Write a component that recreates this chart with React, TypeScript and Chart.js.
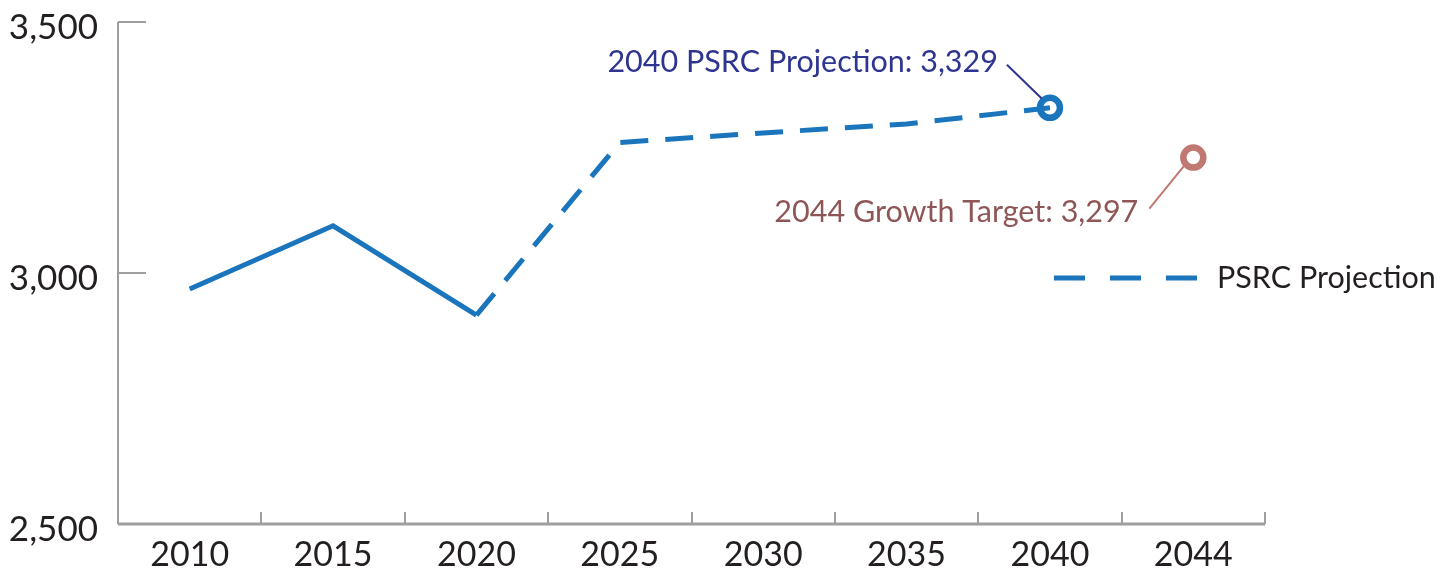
import React, { useEffect, useRef } from "react";
import { Chart, registerables } from "chart.js";

Chart.register(...registerables);

const YEARS = ["2010", "2015", "2020", "2025", "2030", "2035", "2040", "2044"];
const OBSERVED = [2968, 3094, 2916, null, null, null, null, null];
const PROJECTION = [null, null, 2916, 3260, 3279, 3297, 3329, null];
const PROJECTION_2040 = [null, null, null, null, null, null, 3329, null];
const TARGET_2044 = [null, null, null, null, null, null, null, 3230];
const Y_TICKS = [2500, 3000, 3500];
const PROJECTION_LABEL = "2040 PSRC Projection: 3,329";
const TARGET_LABEL = "2044 Growth Target: 3,297";
const LEGEND_LABEL = "PSRC Projection";

const BLUE = "#1a75bd";
const NAVY = "#2e3590";
const ROSE = "#c07872";
const BROWN = "#8e5656";
const AXIS = "#9e9e9e";
const FONT = "Lato, 'Open Sans', sans-serif";

const decorPlugin = {
  id: "decor",
  beforeDatasetsDraw(chart: any) {
    const { ctx, chartArea: ca, scales } = chart;
    const x = scales.x;
    const y = scales.y;
    ctx.save();
    ctx.strokeStyle = AXIS;
    ctx.lineCap = "butt";
    ctx.lineWidth = 2;
    ctx.beginPath();
    ctx.moveTo(ca.left, y.getPixelForValue(3500));
    ctx.lineTo(ca.left, ca.bottom);
    ctx.stroke();
    Y_TICKS.forEach((v) => {
      if (v === 2500) return;
      const py = y.getPixelForValue(v);
      ctx.beginPath();
      ctx.moveTo(ca.left, py);
      ctx.lineTo(ca.left + 28, py);
      ctx.stroke();
    });
    ctx.lineWidth = 3;
    ctx.beginPath();
    ctx.moveTo(ca.left, ca.bottom);
    ctx.lineTo(ca.right, ca.bottom);
    ctx.stroke();
    ctx.lineWidth = 2;
    for (let i = 0; i < YEARS.length; i++) {
      const px = Math.round(x.getPixelForValue(i + 0.5));
      ctx.beginPath();
      ctx.moveTo(px, ca.bottom);
      ctx.lineTo(px, ca.bottom - 12);
      ctx.stroke();
    }
    ctx.restore();
  },
  afterDraw(chart: any) {
    const { ctx, chartArea: ca, scales } = chart;
    const x = scales.x;
    const y = scales.y;
    ctx.save();
    const p1x = x.getPixelForValue(6);
    const p1y = y.getPixelForValue(PROJECTION_2040[6] as number);
    ctx.strokeStyle = NAVY;
    ctx.lineWidth = 2;
    ctx.beginPath();
    ctx.moveTo(p1x - 43, p1y - 43);
    ctx.lineTo(p1x - 8, p1y - 9);
    ctx.stroke();
    ctx.fillStyle = NAVY;
    ctx.font = `30.5px ${FONT}`;
    ctx.textAlign = "right";
    ctx.textBaseline = "middle";
    ctx.fillText(PROJECTION_LABEL, p1x - 52, p1y - 46);

    const p2x = x.getPixelForValue(7);
    const p2y = y.getPixelForValue(TARGET_2044[7] as number);
    ctx.strokeStyle = ROSE;
    ctx.lineWidth = 2;
    ctx.beginPath();
    ctx.moveTo(p2x - 44, p2y + 51);
    ctx.lineTo(p2x - 9, p2y + 8);
    ctx.stroke();
    ctx.fillStyle = BROWN;
    ctx.fillText(TARGET_LABEL, p2x - 55, p2y + 55);

    const ly = y.getPixelForValue(3000) + 5;
    ctx.strokeStyle = BLUE;
    ctx.lineWidth = 5;
    ctx.setLineDash([31, 25]);
    ctx.beginPath();
    ctx.moveTo(ca.right - 211, ly);
    ctx.lineTo(ca.right - 63, ly);
    ctx.stroke();
    ctx.setLineDash([]);
    ctx.fillStyle = "#231f20";
    ctx.textAlign = "left";
    ctx.font = `30.5px ${FONT}`;
    ctx.fillText(LEGEND_LABEL, ca.right - 48, ly);
    ctx.restore();
  },
};

export default function App() {
  const ref = useRef<HTMLCanvasElement | null>(null);
  useEffect(() => {
    document.body.style.margin = "0";
    const chart = new Chart(ref.current as HTMLCanvasElement, {
      type: "line",
      data: {
        labels: YEARS,
        datasets: [
          {
            label: "Observed",
            data: OBSERVED,
            borderColor: BLUE,
            borderWidth: 5,
            pointRadius: 0,
            spanGaps: false,
          },
          {
            label: LEGEND_LABEL,
            data: PROJECTION,
            borderColor: BLUE,
            borderWidth: 5,
            borderDash: [28, 17],
            pointRadius: 0,
            spanGaps: false,
          },
          {
            label: "2040 PSRC Projection",
            data: PROJECTION_2040,
            showLine: false,
            pointRadius: 10,
            pointBorderWidth: 6.5,
            pointBorderColor: BLUE,
            pointBackgroundColor: "#ffffff",
          },
          {
            label: "2044 Growth Target",
            data: TARGET_2044,
            showLine: false,
            pointRadius: 10,
            pointBorderWidth: 6.5,
            pointBorderColor: ROSE,
            pointBackgroundColor: "#ffffff",
          },
        ],
      },
      options: {
        animation: false,
        responsive: true,
        maintainAspectRatio: false,
        layout: { padding: { top: 22, right: 190, left: 0, bottom: 0 } },
        plugins: { legend: { display: false }, tooltip: { enabled: false } },
        scales: {
          x: {
            offset: true,
            grid: { display: false, drawTicks: false },
            border: { display: false },
            ticks: {
              color: "#231f20",
              font: { family: FONT, size: 34 },
              padding: 11,
              maxRotation: 0,
            },
            afterFit: (s: any) => {
              s.height = 47;
              s.paddingLeft = 0;
              s.paddingRight = 0;
            },
          },
          y: {
            min: 2500,
            max: 3500,
            grid: { display: false, drawTicks: false },
            border: { display: false },
            afterBuildTicks: (s: any) => {
              s.ticks = Y_TICKS.map((v) => ({ value: v }));
            },
            ticks: {
              color: "#231f20",
              font: { family: FONT, size: 35 },
              padding: 20,
              labelOffset: 6,
              callback: (v: any) => Number(v).toLocaleString("en-US"),
            },
            afterFit: (s: any) => {
              s.width = 118;
              s.paddingTop = 0;
              s.paddingBottom = 0;
            },
          },
        },
      },
      plugins: [decorPlugin],
    });
    return () => chart.destroy();
  }, []);
  return (
    <div style={{ position: "fixed", left: 0, top: 0, width: 1455, height: 571 }}>
      <canvas ref={ref} />
    </div>
  );
}
